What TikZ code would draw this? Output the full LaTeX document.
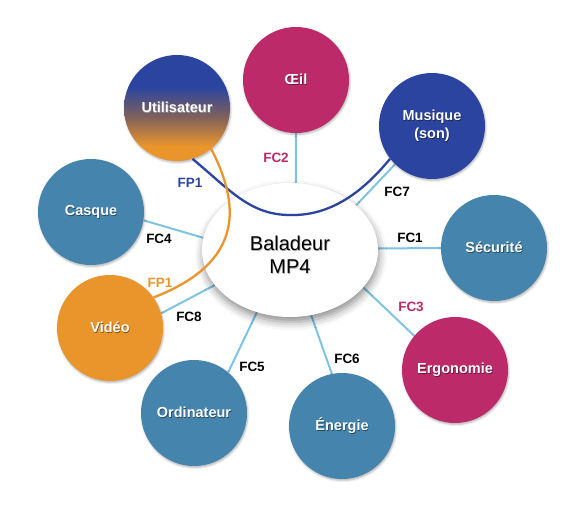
\documentclass[tikz,border=0pt]{standalone}
\usepackage{fontspec}
\setmainfont{Liberation Sans}
\usetikzlibrary{shapes.geometric,shadows.blur,backgrounds}
\definecolor{csteel}{HTML}{4484AD}
\definecolor{cmag}{HTML}{BD2A69}
\definecolor{cdblue}{HTML}{2B44A0}
\definecolor{corange}{HTML}{EA952C}
\definecolor{clink}{HTML}{7EC4E2}
\definecolor{umid}{HTML}{7E605C}
\pgfdeclareverticalshading{userfade}{100bp}{color(0bp)=(corange); color(32bp)=(corange); color(46bp)=(umid); color(60bp)=(cdblue); color(100bp)=(cdblue)}
\newcommand\shtxt[2]{\makebox[0pt][l]{\kern0.7pt\raisebox{-0.9pt}{\textcolor{#1}{#2}}}#2}
\begin{document}
\begin{tikzpicture}[x=1pt,y=-1pt,
  bub/.style={circle, minimum size=106pt, inner sep=0pt, text=white,
    font=\fontsize{14.5}{18}\selectfont\bfseries, align=center,
    blur shadow={shadow xshift=0.8pt, shadow yshift=-1.5pt, shadow blur radius=2pt, shadow opacity=30}},
  link/.style={draw=clink, line width=2pt},
  lab/.style={font=\fontsize{13.5}{16}\selectfont\bfseries, inner sep=0pt},
  fpline/.style={line width=2.3pt}
]
\useasboundingbox (0,0) rectangle (575,505);
% centre
\node[ellipse, fill=white, minimum width=176pt, minimum height=134pt, inner sep=0pt,
  blur shadow={shadow xshift=1pt, shadow yshift=-5pt, shadow blur radius=8pt, shadow opacity=45}] (ell) at (290,250) {};
\node[font=\fontsize{20}{23}\selectfont, align=center, inner sep=0pt] (baltxt) at (290,255)
  {\shtxt{black!30}{Baladeur}\\\shtxt{black!30}{MP4}};
% circles
\node[bub, shading=userfade] (user) at (177,108) {\shtxt{black!45}{Utilisateur}};
\node[bub, fill=cmag] (oeil) at (296,80) {\shtxt{cmag!55!black}{Œil}};
\node[bub, fill=cdblue] (mus) at (432,126) {\shtxt{cdblue!55!black}{Musique}\\\shtxt{cdblue!55!black}{(son)}};
\node[bub, fill=csteel] (casque) at (91,212) {\shtxt{csteel!55!black}{Casque}};
\node[bub, fill=csteel] (secu) at (494,248) {\shtxt{csteel!55!black}{Sécurité}};
\node[bub, fill=corange] (video) at (110,328) {\shtxt{corange!55!black}{Vidéo}};
\node[bub, fill=cmag] (ergo) at (455,370) {\shtxt{cmag!55!black}{Ergonomie}};
\node[bub, fill=csteel] (ordi) at (194,413) {\shtxt{csteel!55!black}{Ordinateur}};
\node[bub, fill=csteel] (ener) at (342,426) {\shtxt{csteel!55!black}{Énergie}};
% connectors
\begin{pgfonlayer}{background}
\draw[link] (oeil.-90) -- (ell.85);
\draw[link] (mus.226.5) -- (ell.34.3);
\draw[link] (secu.180) -- (ell.1.3);
\draw[link] (ergo.140) -- (ell.-27);
\draw[link] (ener.101.5) -- (ell.-72);
\draw[link] (ordi.50.9) -- (ell.242.4);
\draw[link] (video.16) -- (ell.205.7);
\draw[link] (casque.-9.5) -- (ell.172);
\end{pgfonlayer}
% FP1 curves
\draw[fpline, draw=cdblue] (user.-73) .. controls (230,190) and (250,215) .. (290,215)
  .. controls (330,216) and (362,193) .. (mus.-142.5);
\draw[fpline, draw=corange] (user.-50) .. controls (240,205) and (245,262) .. (video.35);
% labels
\node[lab, text=cmag] (l2) at (276,158) {FC2};
\node[lab] (l7) at (397,192) {FC7};
\node[lab] (l1) at (410,238) {FC1};
\node[lab, text=cmag] (l3) at (411,307) {FC3};
\node[lab] (l6) at (347,359) {FC6};
\node[lab] (l5) at (252,367) {FC5};
\node[lab] (l8) at (189,317) {FC8};
\node[lab] (l4) at (159,239) {FC4};
\node[lab, text=corange] (lp1o) at (160,283) {FP1};
\node[lab, text=cdblue] (lp1b) at (190,183) {FP1};
\end{tikzpicture}
\end{document}
